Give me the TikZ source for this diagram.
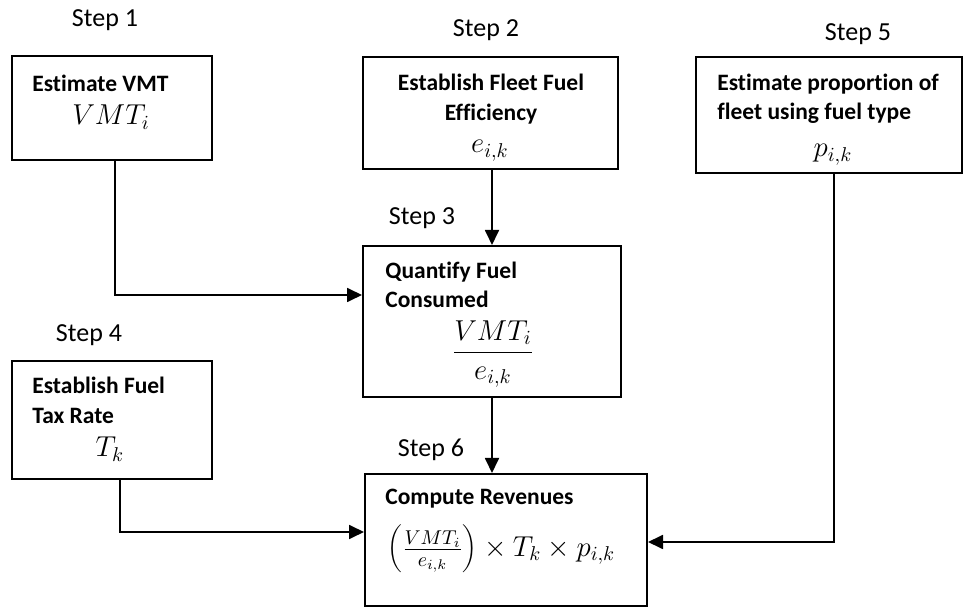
\documentclass[tikz,border=0pt]{standalone}
\usepackage[no-math]{fontspec}
\setmainfont[Ligatures=NoCommon]{Carlito}
\usetikzlibrary{arrows.meta}
\begin{document}
\begin{tikzpicture}[x=0.5pt,y=-0.5pt,
  box/.style={draw, line width=1pt, inner sep=0pt},
  conn/.style={line width=0.9pt, -{Triangle[length=7.5pt,width=7pt]}},
  steplbl/.style={font=\fontsize{13}{15}\selectfont, inner sep=0pt},
  head/.style={font=\fontsize{11.75}{14}\selectfont\bfseries, inner sep=0pt, anchor=base west},
  headc/.style={head, anchor=base},
  mth/.style={font=\fontsize{14}{17}\selectfont, inner sep=0pt}]
\useasboundingbox (0,0) rectangle (964,608);
% boxes
\node[box, minimum width=100pt, minimum height=52pt] (b1) at (112,108) {};
\node[box, minimum width=127.5pt, minimum height=56pt] (b2) at (490.5,113) {};
\node[box, minimum width=133pt, minimum height=58pt] (b5) at (829,115) {};
\node[box, minimum width=129pt, minimum height=75.5pt] (b3) at (492,321.5) {};
\node[box, minimum width=100pt, minimum height=59pt] (b4) at (112,420) {};
\node[box, minimum width=141pt, minimum height=66pt] (b6) at (506,540) {};
% step labels
\node[steplbl] (s1) at (105,20) {Step 1};
\node[steplbl] (s2) at (486,30) {Step 2};
\node[steplbl] (s5) at (858,34) {Step 5};
\node[steplbl] (s3) at (422,218) {Step 3};
\node[steplbl] (s4) at (89,335) {Step 4};
\node[steplbl] (s6) at (431,450) {Step 6};
% box texts
\node[head] (t1) at (32,92) {Estimate VMT};
\node[mth, anchor=base] (m1) at (111,125) {$VMT_i$};
\node[headc] (t2a) at (491,91) {Establish Fleet Fuel};
\node[headc] (t2b) at (491,121) {Efficiency};
\node[mth, anchor=base] (m2) at (490,153) {$e_{i,k}$};
\node[head] (t5a) at (717,91) {Estimate proportion of};
\node[head] (t5b) at (717,120) {fleet using fuel type};
\node[mth, anchor=base] (m5) at (833,157) {$p_{i,k}$};
\node[head] (t3a) at (385,279) {Quantify Fuel};
\node[head] (t3b) at (385,308) {Consumed};
\node[mth] (m3) at (493,354) {$\displaystyle\frac{VMT_i}{e_{i,k}}$};
\node[head] (t4a) at (32,394) {Establish Fuel};
\node[head] (t4b) at (32,424) {Tax Rate};
\node[mth, anchor=base] (m4) at (110,457) {$T_k$};
\node[head] (t6) at (385,505) {Compute Revenues};
\node[mth, anchor=west] (m6) at (387,549) {$\left(\frac{VMT_i}{e_{i,k}}\right)\times T_k\times p_{i,k}$};
% connectors
\coordinate (j1) at (115,295);
\draw[conn] (b1.south -| j1) |- (j1 -| b3.west);
\draw[conn] (b2.south -| b3.north) -- (b3.north);
\draw[conn] (b3.south) -- (b3.south |- b6.north);
\coordinate (j4) at (120,532);
\draw[conn] (b4.south -| j4) |- (j4 -| b6.west);
\coordinate (j5) at (834,542);
\draw[conn] (b5.south -| j5) |- (j5 -| b6.east);
\end{tikzpicture}
\end{document}
